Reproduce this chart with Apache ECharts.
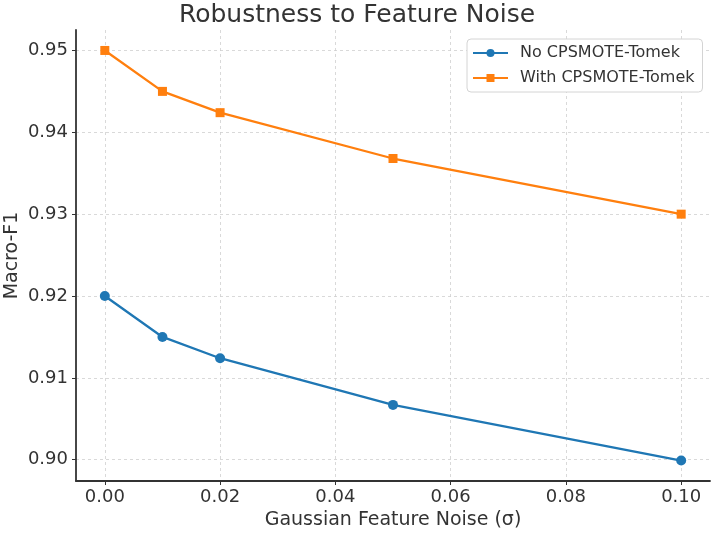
<!DOCTYPE html>
<html>
<head>
<meta charset="utf-8">
<script src="https://cdn.jsdelivr.net/npm/echarts@6/dist/echarts.min.js"></script>
<style>
  html, body { margin: 0; padding: 0; background: #fff; }
  #chart { width: 714px; height: 533px; }
</style>
</head>
<body>
<div id="chart"></div>
<script>
// noise levels (sigma)
const noiseLevels = [0.00, 0.01, 0.02, 0.05, 0.10]
const noCpsmote = [0.920, 0.915, 0.9124, 0.9067, 0.8999]
const withCpsmote = [0.950, 0.945, 0.9424, 0.9368, 0.9300]
const xTicks = [0, 0.02, 0.04, 0.06, 0.08, 0.10]
const yTicks = [0.90, 0.91, 0.92, 0.93, 0.94, 0.95]

const chart = echarts.init(document.getElementById('chart'), null, { renderer: 'canvas' })

const font = 'DejaVu Sans'
const axisDark = '#333'
const gridStyle = { color: '#d0d0d0', type: [3, 3], width: 0.8 }

chart.setOption({
  animation: false,
  backgroundColor: '#fff',
  title: {
    text: 'Robustness to Feature Noise',
    left: 'center',
    top: -2,
    textStyle: { fontFamily: font, fontSize: 25, fontWeight: 'normal', color: '#333' }
  },
  legend: {
    left: 467,
    top: 39,
    orient: 'vertical',
    itemGap: 9,
    itemWidth: 35,
    itemHeight: 10,
    padding: [6, 8, 6, 5],
    borderColor: '#d4d4d4',
    borderWidth: 1,
    borderRadius: 4,
    backgroundColor: '#fff',
    textStyle: { fontFamily: font, fontSize: 16, color: '#333', padding: [0, 0, 0, 7] },
    data: ['No CPSMOTE-Tomek', 'With CPSMOTE-Tomek']
  },
  grid: { left: 76, right: 4, top: 30, bottom: 52, outerBoundsMode: 'none' },
  xAxis: {
    type: 'value',
    min: -0.005,
    max: 0.105,
    name: 'Gaussian Feature Noise (σ)',
    nameLocation: 'middle',
    nameGap: 30,
    nameMoveOverlap: false,
    nameTextStyle: { fontFamily: font, fontSize: 19, color: '#333' },
    axisLine: { show: true, onZero: false, lineStyle: { color: axisDark, width: 1.8 } },
    axisTick: { show: true, length: 4, lineStyle: { color: axisDark }, customValues: xTicks },
    axisLabel: {
      fontFamily: font, fontSize: 18, color: '#333', margin: 7,
      customValues: xTicks,
      formatter: v => v.toFixed(2)
    },
    splitLine: { show: true, lineStyle: gridStyle }
  },
  yAxis: {
    type: 'value',
    min: 0.8974,
    max: 0.9525,
    name: 'Macro-F1',
    nameLocation: 'middle',
    nameGap: 54,
    nameMoveOverlap: false,
    nameTextStyle: { fontFamily: font, fontSize: 19, color: '#333' },
    axisLine: { show: true, onZero: false, lineStyle: { color: axisDark, width: 1.8 } },
    axisTick: { show: true, length: 4, lineStyle: { color: axisDark }, customValues: yTicks },
    axisLabel: {
      fontFamily: font, fontSize: 18, color: '#333', margin: 8,
      customValues: yTicks,
      formatter: v => v.toFixed(2)
    },
    splitLine: { show: true, lineStyle: gridStyle }
  },
  series: [
    {
      name: 'No CPSMOTE-Tomek',
      type: 'line',
      data: noiseLevels.map((x, i) => [x, noCpsmote[i]]),
      symbol: 'circle',
      symbolSize: 10,
      color: '#1f77b4',
      lineStyle: { width: 2.3 }
    },
    {
      name: 'With CPSMOTE-Tomek',
      type: 'line',
      data: noiseLevels.map((x, i) => [x, withCpsmote[i]]),
      symbol: 'rect',
      symbolSize: 9,
      color: '#ff7f0e',
      lineStyle: { width: 2.3 }
    }
  ]
})
</script>
</body>
</html>
